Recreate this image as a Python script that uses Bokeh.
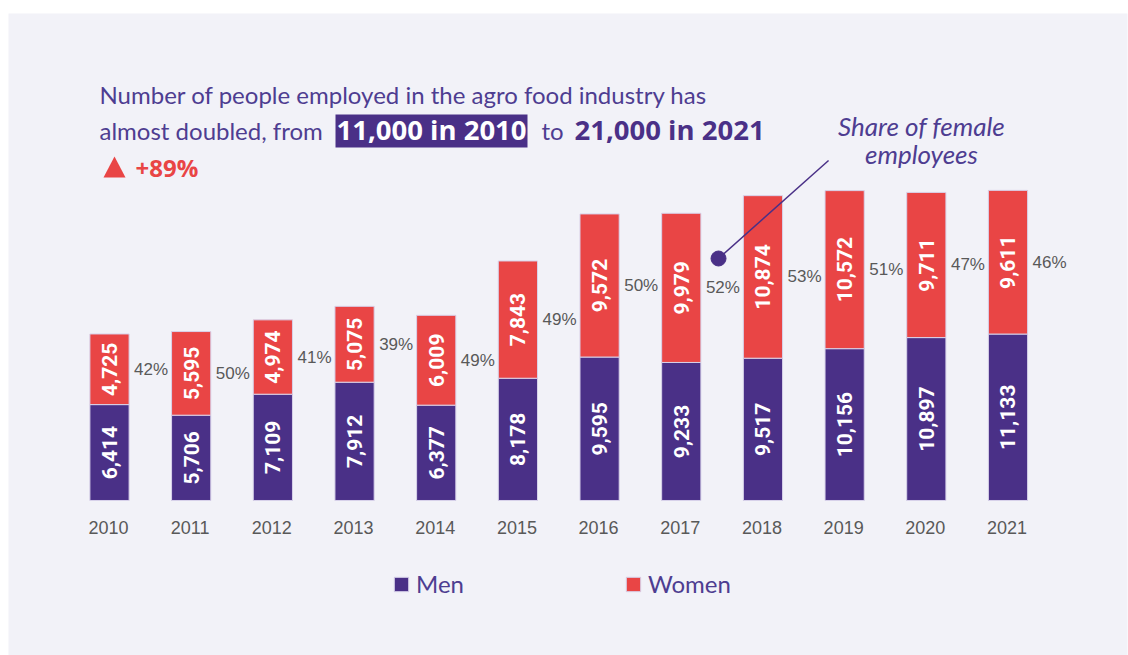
from math import pi
from bokeh.plotting import figure
from bokeh.models import (ColumnDataSource, Range1d, Label, BoxAnnotation,
                          PolyAnnotation, Legend, LegendItem)
from bokeh.core.properties import value
from bokeh.embed import file_html
from bokeh.resources import INLINE

# ---- data ----
years = ["2010", "2011", "2012", "2013", "2014", "2015",
         "2016", "2017", "2018", "2019", "2020", "2021"]
men = [6414, 5706, 7109, 7912, 6377, 8178, 9595, 9233, 9517, 10156, 10897, 11133]
women = [4725, 5595, 4974, 5075, 6009, 7843, 9572, 9979, 10874, 10572, 9711, 9611]
share_pct = [42, 50, 41, 39, 49, 49, 50, 52, 53, 51, 47, 46]

# ---- style ----
BG = "#f2f2f8"
PURPLE = "#4a3087"
TXT_PURPLE = "#4e3d91"
RED = "#e94545"
GREY = "#595959"
BAR_W = 0.48

idx = list(range(len(years)))
src = ColumnDataSource(dict(
    x=idx,
    year=years,
    zero=[0] * len(idx),
    men=men,
    women=women,
    men_mid=[m / 2 for m in men],
    women_mid=[m + w / 2 for m, w in zip(men, women)],
    men_lbl=[f"{m:,}" for m in men],
    women_lbl=[f"{w:,}" for w in women],
    share_lbl=[f"{s}%" for s in share_pct],
    share_x=[i + BAR_W / 2 for i in idx],
))

p = figure(width=1128, height=655,
           x_range=Range1d(-1.2365, 12.463), y_range=Range1d(-10368, 32575),
           output_backend="svg", toolbar_location=None,
           x_axis_location=None, y_axis_location=None,
           min_border_left=8, min_border_right=1, min_border_top=13,
           min_border_bottom=0)
p.grid.visible = False
p.outline_line_color = None
p.background_fill_color = BG
p.border_fill_color = "white"

rs = p.vbar_stack(["men", "women"], x="x", width=BAR_W, fill_color=[PURPLE, RED],
                  source=src, line_color="#d8d2ea", line_width=1)

# values inside bars
for ycol, tcol in (("men_mid", "men_lbl"), ("women_mid", "women_lbl")):
    p.text(x="x", y=ycol, text=tcol, source=src, angle=pi / 2,
           text_align="center", text_baseline="middle", text_color="white",
           text_font=value("Roboto"), text_font_style="bold",
           text_font_size="21px")

# share of female labels
p.text(x="share_x", y="women_mid", text="share_lbl", source=src, x_offset=5,
       text_align="left", text_baseline="middle", text_color=GREY,
       text_font=value("Liberation Sans"), text_font_size="17px")

# year labels under bars
p.text(x="x", y="zero", text="year", source=src, y_offset=27, x_offset=-1,
       text_align="center", text_baseline="middle", text_color=GREY,
       text_font=value("Liberation Sans"), text_font_size="18px")

# legend
legend = Legend(items=[LegendItem(label="Men", renderers=[rs[0]]),
                       LegendItem(label="Women", renderers=[rs[1]])],
                orientation="horizontal", location=(384, 57),
                padding=0, margin=0, spacing=160,
                glyph_width=18, glyph_height=18, label_standoff=6,
                border_line_color=None, background_fill_alpha=0,
                label_text_font="Lato", label_text_font_size="24px",
                label_text_color=TXT_PURPLE)
p.add_layout(legend)

# headline
def lab(x, y, text, **kw):
    opts = dict(x=x, y=y, x_units="screen", y_units="screen", text=text,
                text_baseline="alphabetic", text_font="Lato",
                text_font_size="24px", text_color=TXT_PURPLE)
    opts.update(kw)
    p.add_layout(Label(**opts))

lab(91, 561, "Number of people employed in the  agro  food industry has")
lab(91, 525, "almost doubled, from")
p.add_layout(BoxAnnotation(left=327, right=519, bottom=508, top=541,
                           left_units="screen", right_units="screen",
                           bottom_units="screen", top_units="screen",
                           fill_color=PURPLE, fill_alpha=1, line_color=None))
lab(423, 526, "11,000 in 2010", text_align="center", text_font="Open Sans",
    text_font_style="bold", text_font_size="27.5px", text_color="white")
lab(533, 525, "to")
lab(566, 526, "21,000 in 2021", text_font="Open Sans", text_font_style="bold",
    text_font_size="27.5px", text_color=PURPLE)
p.add_layout(PolyAnnotation(xs=[95, 117, 106], ys=[478, 478, 499],
                            xs_units="screen", ys_units="screen",
                            fill_color=RED, fill_alpha=1, line_color=None))
lab(127, 488, "+89%", text_font="Open Sans", text_font_style="bold",
    text_font_size="24px", text_color=RED)

# callout
lab(913, 530, "Share of female", text_align="center", text_font_style="italic",
    text_font_size="26px")
lab(913, 502, "employees", text_align="center", text_font_style="italic",
    text_font_size="26px")
callout_x = [7.456, 8.803]
callout_y = [16187, 22742]
p.line(x=callout_x, y=callout_y, line_color=PURPLE, line_width=1.5)
p.scatter(x=callout_x[:1], y=callout_y[:1], size=15, color=PURPLE)

open("out.html", "w").write(file_html(p, INLINE))
